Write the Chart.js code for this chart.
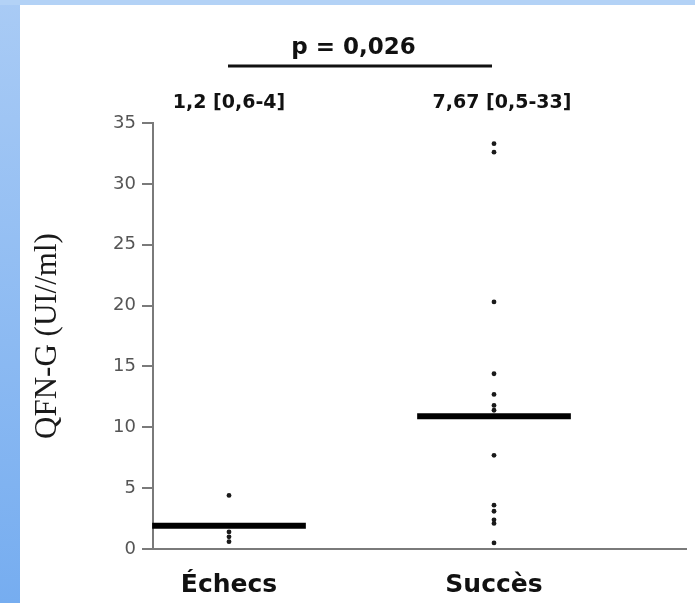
<!DOCTYPE html>
<html><head><meta charset="utf-8">
<script src="https://cdn.jsdelivr.net/npm/chart.js@4/dist/chart.umd.min.js"></script>
<style>html,body{margin:0;padding:0;background:#fff;overflow:hidden}#wrap{width:695px;height:603px;position:relative}</style>
</head><body><div id="wrap"><canvas id="c" width="695" height="603"></canvas></div>
<script>
// ---- data ----
const categories = ['Échecs', 'Succès'];
const echecsValues = [4.4, 1.4, 1.0, 0.6];
const succesValues = [33.3, 32.6, 20.3, 14.4, 12.7, 11.8, 11.4, 7.7, 3.6, 3.1, 2.4, 2.1, 0.5];
const medianLevels = [1.9, 10.9];
const summaryLabels = ['1,2 [0,6-4]', '7,67 [0,5-33]'];
const pValueLabel = 'p = 0,026';
const yTickValues = [0, 5, 10, 15, 20, 25, 30, 35];
const yTitle = 'QFN-G (UI//ml)';

// ---- build datasets ----
const groupValues = [echecsValues, succesValues];
const medianHalfWidth = 0.29;
const datasets = [];
groupValues.forEach((vals, i) => {
  datasets.push({
    type: 'line',
    data: [{x: i + 1 - medianHalfWidth, y: medianLevels[i]}, {x: i + 1 + medianHalfWidth, y: medianLevels[i]}],
    borderColor: '#000', borderWidth: 6, pointRadius: 0, borderCapStyle: 'butt', clip: false, order: 1
  });
  datasets.push({
    type: 'scatter',
    data: vals.map(v => ({x: i + 1, y: v})),
    backgroundColor: '#1a1a1a', borderWidth: 0, pointRadius: 2.4, clip: false, order: 0
  });
});

const bgPlugin = {
  id: 'bg',
  beforeDraw(chart) {
    const ctx = chart.ctx, W = chart.width, H = chart.height;
    ctx.save();
    ctx.fillStyle = '#ffffff';
    ctx.fillRect(0, 0, W, H);
    const g = ctx.createLinearGradient(0, 0, 0, H);
    g.addColorStop(0, '#a9cbf5');
    g.addColorStop(1, '#76adf0');
    ctx.fillStyle = g;
    ctx.fillRect(0, 0, 20, H);
    ctx.fillStyle = '#b3d2f6';
    ctx.fillRect(0, 0, W, 5);
    ctx.restore();
  }
};

const annotPlugin = {
  id: 'annot',
  afterDraw(chart) {
    const ctx = chart.ctx, xs = chart.scales.x;
    const x1 = xs.getPixelForValue(1), x2 = xs.getPixelForValue(2);
    ctx.save();
    ctx.fillStyle = '#111';
    ctx.textAlign = 'center';
    ctx.textBaseline = 'alphabetic';
    ctx.font = 'bold 23px "DejaVu Sans"';
    ctx.fillText(pValueLabel, (x1 + x2) / 2 - 8, 54);
    ctx.strokeStyle = '#111';
    ctx.lineWidth = 3;
    ctx.beginPath();
    ctx.moveTo(x1 - 1, 66);
    ctx.lineTo(x2 - 2, 66);
    ctx.stroke();
    ctx.font = 'bold 19px "DejaVu Sans"';
    ctx.fillText(summaryLabels[0], x1, 108);
    ctx.fillText(summaryLabels[1], x2 + 8, 108);
    ctx.restore();
  }
};

new Chart(document.getElementById('c'), {
  type: 'scatter',
  data: {datasets},
  plugins: [bgPlugin, annotPlugin],
  options: {
    responsive: false,
    animation: false,
    layout: {padding: {top: 123, right: 9, left: 0, bottom: 0}},
    plugins: {legend: {display: false}, tooltip: {enabled: false}},
    scales: {
      x: {
        type: 'linear', min: 0.7132, max: 2.7245,
        afterBuildTicks: s => { s.ticks = categories.map((c, i) => ({value: i + 1})); },
        afterFit: s => { s.height = 54; },
        ticks: {
          callback: v => categories[Math.round(v) - 1],
          font: {family: 'DejaVu Sans', weight: 'bold', size: 25},
          color: '#111', padding: 21, autoSkip: false, maxRotation: 0
        },
        grid: {display: false, drawTicks: false},
        border: {display: true, color: '#7a7a7a', width: 2}
      },
      y: {
        type: 'linear', min: 0, max: 35,
        afterBuildTicks: s => { s.ticks = yTickValues.map(v => ({value: v})); },
        afterFit: s => { s.width = 153; },
        ticks: {font: {family: 'DejaVu Sans', size: 18}, color: '#555', padding: 6},
        grid: {display: true, drawOnChartArea: false, drawTicks: true, tickLength: 11, color: '#7a7a7a', lineWidth: 2},
        border: {display: true, color: '#7a7a7a', width: 2},
        title: {display: true, text: yTitle, font: {family: 'Liberation Serif', size: 31}, color: '#1a1a1a', padding: {top: 29, bottom: 0}}
      }
    }
  }
});
</script>
</body></html>
